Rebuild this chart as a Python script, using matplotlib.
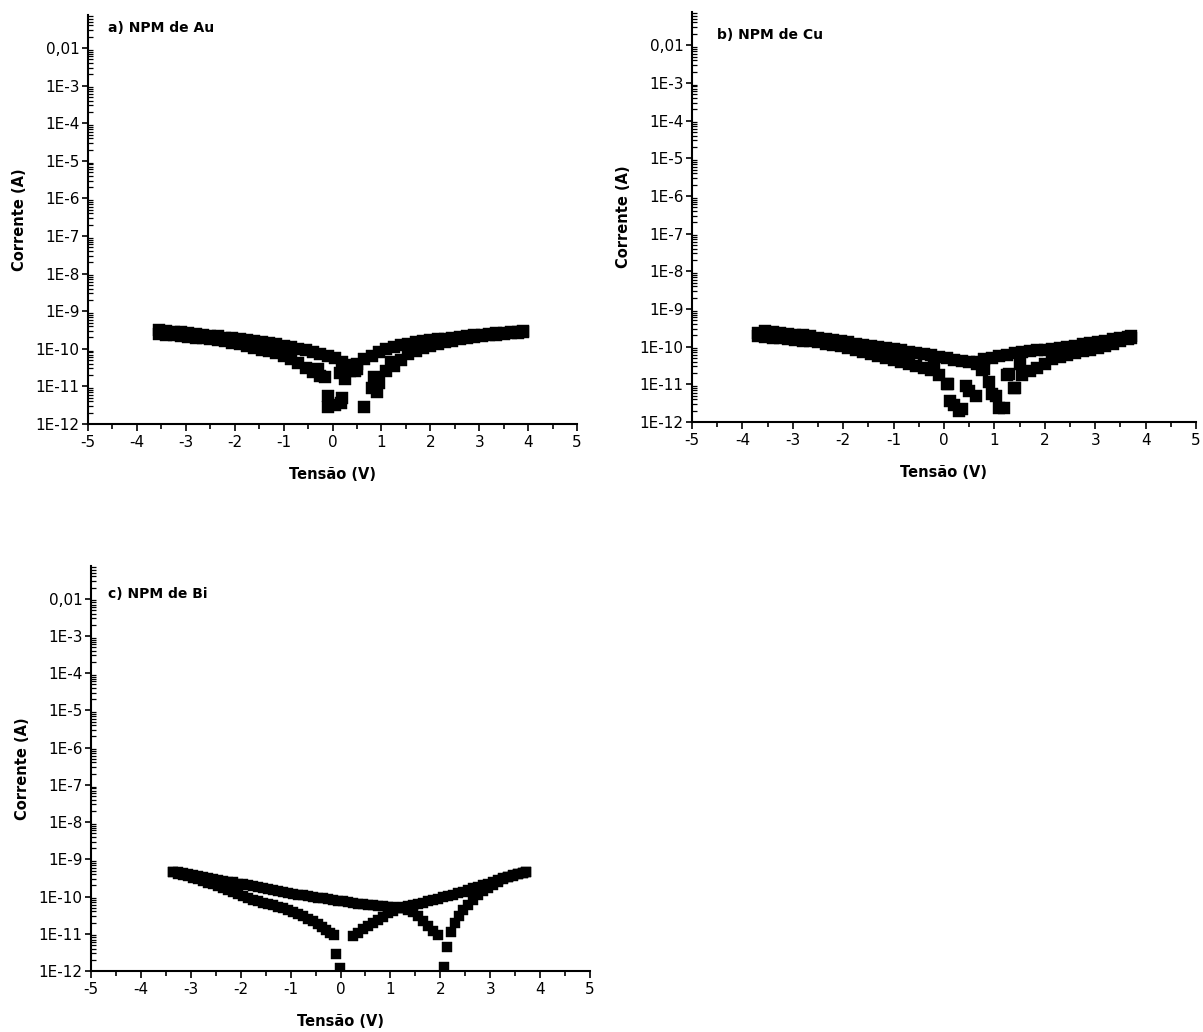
import numpy as np
import matplotlib.pyplot as plt
from matplotlib.ticker import FixedLocator, FixedFormatter, LogLocator, MultipleLocator, NullFormatter

plt.rcParams['axes.unicode_minus'] = False
plt.rcParams['font.family'] = 'DejaVu Sans'

# eixo y: decadas e rotulos
decadas = [1e-2, 1e-3, 1e-4, 1e-5, 1e-6, 1e-7, 1e-8, 1e-9, 1e-10, 1e-11, 1e-12]
rotulos_y = ['0,01', '1E-3', '1E-4', '1E-5', '1E-6', '1E-7', '1E-8', '1E-9', '1E-10', '1E-11', '1E-12']

# a) NPM de Au  (log10 da corrente lido do grafico)
tensao_au = [-3.55, -3.40, -3.25, -3.10, -2.95, -2.80, -2.65, -2.50, -2.35, -2.20,
             -2.05, -1.90, -1.75, -1.60, -1.45, -1.30, -1.15, -1.00, -0.85, -0.70,
             -0.55, -0.40, -0.25, -0.10, 0.05, 0.20, 0.35, 0.50, 0.65, 0.80,
             0.95, 1.10, 1.25, 1.40, 1.55, 1.70, 1.85, 2.00, 2.15, 2.30,
             2.45, 2.60, 2.75, 2.90, 3.05, 3.20, 3.35, 3.50, 3.65, 3.80, 3.90]
log_au_ida = [-9.60, -9.62, -9.64, -9.66, -9.68, -9.70, -9.72, -9.75, -9.77, -9.80,
              -9.84, -9.88, -9.92, -9.97, -10.02, -10.07, -10.12, -10.18, -10.27, -10.38,
              -10.50, -10.62, -10.72, -11.25, -11.50, -11.30, -10.60, -10.40, -10.28, -10.18,
              -10.08, -10.00, -9.95, -9.90, -9.86, -9.83, -9.80, -9.77, -9.75, -9.73,
              -9.70, -9.68, -9.66, -9.64, -9.62, -9.60, -9.58, -9.57, -9.55, -9.54, -9.53]
log_au_volta = [-9.50, -9.52, -9.54, -9.56, -9.58, -9.60, -9.62, -9.65, -9.67, -9.70,
                -9.72, -9.74, -9.77, -9.80, -9.82, -9.85, -9.88, -9.92, -9.96, -10.00,
                -10.04, -10.09, -10.14, -10.19, -10.25, -10.35, -10.42, -10.55, -11.55, -11.05,
                -10.90, -10.60, -10.45, -10.30, -10.15, -10.05, -9.98, -9.92, -9.87, -9.82,
                -9.78, -9.75, -9.72, -9.69, -9.66, -9.64, -9.62, -9.60, -9.58, -9.57, -9.56]
tensao_au_extra = [-0.15, 0.15, 0.25, 0.45, 0.85, 0.90, -0.10, 0.18, -0.30, 1.20]
log_au_extra = [-10.75, -10.65, -10.80, -10.60, -10.75, -11.15, -11.55, -11.45, -10.55, -10.35]

# b) NPM de Cu
tensao_cu = [-3.70, -3.55, -3.40, -3.25, -3.10, -2.95, -2.80, -2.65, -2.50, -2.35,
             -2.20, -2.05, -1.90, -1.75, -1.60, -1.45, -1.30, -1.15, -1.00, -0.85,
             -0.70, -0.55, -0.40, -0.25, -0.10, 0.05, 0.20, 0.35, 0.50, 0.65,
             0.80, 0.95, 1.10, 1.25, 1.40, 1.55, 1.70, 1.85, 2.00, 2.15,
             2.30, 2.45, 2.60, 2.75, 2.90, 3.05, 3.20, 3.35, 3.50, 3.65, 3.72]
log_cu_ida = [-9.63, -9.58, -9.60, -9.64, -9.66, -9.68, -9.70, -9.73, -9.76, -9.79,
              -9.83, -9.86, -9.89, -9.93, -9.96, -9.99, -10.01, -10.04, -10.07, -10.10,
              -10.13, -10.16, -10.19, -10.23, -10.27, -10.31, -10.35, -10.38, -10.40, -10.45,
              -10.60, -11.25, -11.62, -10.75, -11.10, -10.75, -10.65, -10.57, -10.45, -10.33,
              -10.27, -10.22, -10.17, -10.12, -10.09, -10.04, -9.98, -9.92, -9.85, -9.79, -9.77]
log_cu_volta = [-9.72, -9.74, -9.76, -9.78, -9.80, -9.82, -9.84, -9.86, -9.89, -9.92,
                -9.95, -9.99, -10.03, -10.08, -10.14, -10.19, -10.25, -10.30, -10.35, -10.40,
                -10.46, -10.52, -10.57, -10.62, -10.75, -11.00, -11.55, -11.65, -11.18, -10.40,
                -10.34, -10.30, -10.25, -10.21, -10.17, -10.14, -10.12, -10.10, -10.08, -10.06,
                -10.03, -10.00, -9.97, -9.94, -9.91, -9.87, -9.84, -9.80, -9.78, -9.75, -9.73]
tensao_cu_extra = [0.08, 0.44, 0.63, 1.03, 1.20, 1.29, 1.38, 0.12, 0.30, 0.90, -0.20, 0.75, 1.50]
log_cu_extra = [-11.00, -11.05, -11.30, -11.30, -11.63, -10.73, -11.10, -11.45, -11.72, -10.95,
                -10.50, -10.62, -10.45]

# c) NPM de Bi
tensao_bi_ida = [-3.35, -3.25, -3.15, -3.05, -2.95, -2.85, -2.75, -2.65, -2.55, -2.45,
                 -2.35, -2.25, -2.15, -2.05, -1.95, -1.85, -1.75, -1.65, -1.55, -1.45,
                 -1.35, -1.25, -1.15, -1.05, -0.95, -0.85, -0.75, -0.65, -0.55, -0.45,
                 -0.38, -0.30, -0.22, -0.14, -0.10, -0.02,
                 0.25, 0.35, 0.45, 0.55, 0.65, 0.75, 0.85, 0.95, 1.05, 1.15,
                 1.25, 1.35, 1.45, 1.55, 1.65, 1.75, 1.85, 1.95, 2.05, 2.15,
                 2.25, 2.35, 2.45, 2.55, 2.65, 2.75, 2.85, 2.95, 3.05, 3.15,
                 3.25, 3.35, 3.45, 3.55, 3.65, 3.72]
log_bi_ida = [-9.35, -9.39, -9.42, -9.46, -9.50, -9.54, -9.58, -9.63, -9.67, -9.72,
              -9.77, -9.83, -9.88, -9.93, -9.99, -10.04, -10.08, -10.12, -10.16, -10.20,
              -10.24, -10.28, -10.32, -10.36, -10.42, -10.47, -10.53, -10.60, -10.66, -10.74,
              -10.82, -10.90, -10.97, -11.02, -11.55, -11.92,
              -11.05, -10.98, -10.88, -10.80, -10.72, -10.62, -10.54, -10.45, -10.38, -10.31,
              -10.28, -10.25, -10.22, -10.19, -10.16, -10.12, -10.09, -10.06, -10.02, -9.99,
              -9.95, -9.91, -9.87, -9.82, -9.78, -9.73, -9.69, -9.65, -9.61, -9.56,
              -9.51, -9.47, -9.43, -9.40, -9.37, -9.35]
tensao_bi_volta = [-3.35, -3.25, -3.15, -3.05, -2.95, -2.85, -2.75, -2.65, -2.55, -2.45,
                   -2.35, -2.25, -2.15, -2.05, -1.95, -1.85, -1.75, -1.65, -1.55, -1.45,
                   -1.35, -1.25, -1.15, -1.05, -0.95, -0.85, -0.75, -0.65, -0.55, -0.45,
                   -0.35, -0.25, -0.15, -0.05, 0.05, 0.15, 0.25, 0.35, 0.45, 0.55,
                   0.65, 0.75, 0.85, 0.95, 1.05, 1.15,
                   1.25, 1.35, 1.45, 1.55, 1.65, 1.75, 1.85, 1.95,
                   2.07, 2.14, 2.22, 2.30, 2.38, 2.46, 2.55, 2.65, 2.75, 2.85,
                   2.95, 3.05, 3.15, 3.25, 3.35, 3.45, 3.55, 3.65, 3.72]
log_bi_volta = [-9.33, -9.35, -9.38, -9.40, -9.43, -9.46, -9.48, -9.50, -9.53, -9.55,
                -9.58, -9.60, -9.62, -9.65, -9.67, -9.69, -9.72, -9.74, -9.77, -9.80,
                -9.83, -9.86, -9.88, -9.91, -9.93, -9.95, -9.97, -9.99, -10.01, -10.03,
                -10.05, -10.07, -10.09, -10.11, -10.13, -10.15, -10.17, -10.19, -10.20, -10.22,
                -10.23, -10.25, -10.26, -10.27, -10.29, -10.30,
                -10.32, -10.36, -10.42, -10.52, -10.65, -10.78, -10.92, -11.03,
                -11.90, -11.35, -10.95, -10.72, -10.52, -10.36, -10.22, -10.08, -9.95, -9.85,
                -9.76, -9.68, -9.61, -9.54, -9.48, -9.44, -9.40, -9.37, -9.34]


def estilo(ax, titulo, tx, ty):
    ax.set_yscale('log')
    ax.set_xlim(-5, 5)
    ax.set_ylim(1e-12, 10 ** -1.12)
    ax.spines['top'].set_visible(False)
    ax.spines['right'].set_visible(False)
    for s in ['left', 'bottom']:
        ax.spines[s].set_linewidth(1.5)
    ax.yaxis.set_major_locator(FixedLocator(decadas))
    ax.yaxis.set_major_formatter(FixedFormatter(rotulos_y))
    ax.yaxis.set_minor_locator(LogLocator(base=10, subs=np.arange(2, 10) * 1.0, numticks=30))
    ax.yaxis.set_minor_formatter(NullFormatter())
    ax.xaxis.set_major_locator(MultipleLocator(1))
    ax.xaxis.set_minor_locator(MultipleLocator(0.5))
    ax.tick_params(axis='y', which='major', direction='out', length=4, width=1.2, labelsize=11, pad=2)
    ax.tick_params(axis='y', which='minor', direction='in', length=3.5, width=0.9)
    ax.tick_params(axis='x', which='major', direction='out', length=5, width=1.2, labelsize=11, pad=3)
    ax.tick_params(axis='x', which='minor', direction='out', length=3.5, width=1.2)
    ax.set_xlabel('Tensão (V)', fontsize=10.5, fontweight='bold', labelpad=12)
    ax.set_ylabel('Corrente (A)', fontsize=10.5, fontweight='bold', labelpad=6)
    ax.text(tx, ty, titulo, transform=ax.transAxes, fontsize=10, fontweight='bold',
            ha='left', va='center')


def pontos(ax, v, logi, tam=8):
    ax.plot(v, 10.0 ** np.array(logi), 's', color='black', ms=tam, mew=0.3, mec='black')


fig = plt.figure(figsize=(12.03, 10.32), dpi=100)
ax_a = fig.add_axes([88 / 1203, 1 - 424 / 1032, 489 / 1203, 409 / 1032])
ax_b = fig.add_axes([692 / 1203, 1 - 422 / 1032, 504 / 1203, 410 / 1032])
ax_c = fig.add_axes([91 / 1203, 1 - 971 / 1032, 499 / 1203, 405 / 1032])

pontos(ax_a, tensao_au, log_au_ida)
pontos(ax_a, tensao_au, log_au_volta)
pontos(ax_a, tensao_au_extra, log_au_extra)
estilo(ax_a, 'a) NPM de Au', 0.04, 0.968)

pontos(ax_b, tensao_cu, log_cu_ida)
pontos(ax_b, tensao_cu, log_cu_volta)
pontos(ax_b, tensao_cu_extra, log_cu_extra)
estilo(ax_b, 'b) NPM de Cu', 0.05, 0.945)

pontos(ax_c, tensao_bi_ida, log_bi_ida, 7)
pontos(ax_c, tensao_bi_volta, log_bi_volta, 7)
estilo(ax_c, 'c) NPM de Bi', 0.034, 0.93)

fig.savefig('out.png', dpi=100)
